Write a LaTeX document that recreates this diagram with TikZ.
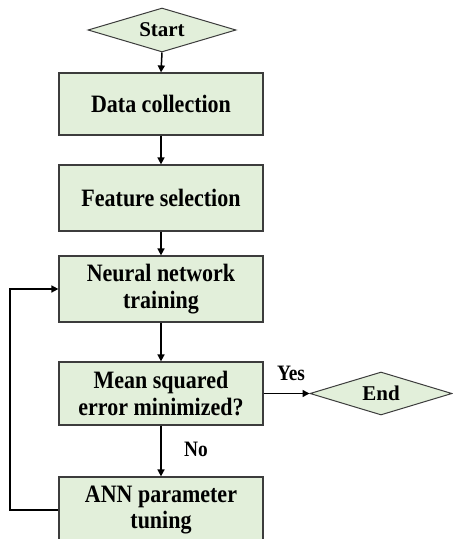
\documentclass[tikz,border=0pt]{standalone}
\usepackage{fontspec}
\setmainfont{Liberation Serif}
\newfontfamily\tallfont[FakeStretch=0.88]{Liberation Serif}
\usetikzlibrary{shapes.geometric,arrows.meta}
\definecolor{boxfill}{RGB}{226,239,218}
\definecolor{boxline}{RGB}{60,60,60}
\tikzset{
  procbox/.style={draw=boxline, fill=boxfill, line width=1.2pt, minimum width=204pt, inner sep=0pt, align=center, font=\tallfont\bfseries\fontsize{25}{26.5}\selectfont},
  termdia/.style={diamond, draw=boxline, fill=boxfill, line width=1pt, inner sep=0pt, aspect=3.3, font=\bfseries\fontsize{21}{25}\selectfont},
  flow/.style={line width=1.5pt, -{Triangle[length=7pt,width=7pt]}},
  lbl/.style={font=\tallfont\bfseries\fontsize{22}{24}\selectfont, inner sep=0pt}
}
\begin{document}
\begin{tikzpicture}[x=1pt,y=-1pt]
\useasboundingbox (0,0) rectangle (453,539);
\clip (0,0) rectangle (453,539);
\fill[white] (0,0) rectangle (453,539);
\node[termdia, minimum width=148pt, minimum height=44pt] (start) at (162,30) {Start};
\node[procbox, minimum height=62pt] (data) at (161,104) {Data collection};
\node[procbox, minimum height=66pt] (feat) at (161,198) {Feature selection};
\node[procbox, minimum height=66pt] (nn) at (161,289) {Neural network\\training};
\node[procbox, minimum height=63pt] (mse) at (161,393.5) {Mean squared\\error minimized?};
\node[procbox, minimum height=66pt] (ann) at (161,510) {ANN parameter\\tuning};
\node[termdia, minimum width=142pt, minimum height=43pt] (end) at (381,393.5) {End};
\coordinate (lp) at (10,0);
\draw[flow] (start.south) -- (data.north);
\draw[flow] (data.south) -- (feat.north);
\draw[flow] (feat.south) -- (nn.north);
\draw[flow] (nn.south) -- (mse.north);
\draw[flow] (mse.south) -- (ann.north);
\draw[flow] (mse.east) -- (end.west);
\draw[flow] (ann.west) -- (ann.west -| lp) |- (nn.west);
\node[lbl] (yes) at (291,373) {Yes};
\node[lbl] (no) at (196,449) {No};
\end{tikzpicture}
\end{document}
